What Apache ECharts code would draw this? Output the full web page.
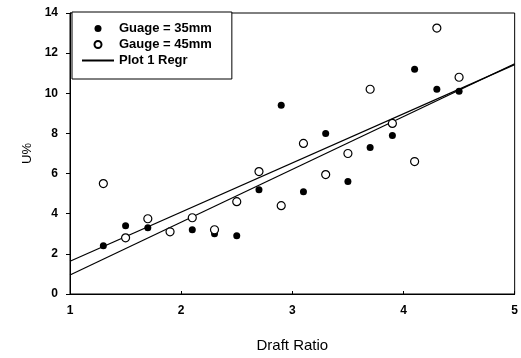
<!DOCTYPE html>
<html>
<head>
<meta charset="utf-8">
<script src="https://cdn.jsdelivr.net/npm/echarts@6/dist/echarts.min.js"></script>
<style>
  html, body { margin: 0; padding: 0; background: #fff; }
  #chart { width: 521px; height: 358px; }
</style>
</head>
<body>
<div id="chart"></div>
<script>
// 数据
const gauge35X = [1.3, 1.5, 1.7, 2.1, 2.3, 2.5, 2.7, 2.9, 3.1, 3.3, 3.5, 3.7, 3.9, 4.1, 4.3, 4.5];
const gauge35Y = [2.4, 3.4, 3.3, 3.2, 3.0, 2.9, 5.2, 9.4, 5.1, 8.0, 5.6, 7.3, 7.9, 11.2, 10.2, 10.1];

const gauge45X = [1.3, 1.5, 1.7, 1.9, 2.1, 2.3, 2.5, 2.7, 2.9, 3.1, 3.3, 3.5, 3.7, 3.9, 4.1, 4.3, 4.5];
const gauge45Y = [5.5, 2.8, 3.75, 3.1, 3.8, 3.2, 4.6, 6.1, 4.4, 7.5, 5.95, 7.0, 10.2, 8.5, 6.6, 13.25, 10.8];

// 回归线端点
const regrX = [1, 5];
const regr35Y = [0.95, 11.47];
const regr45Y = [1.63, 11.43];

const xTicks = [1, 2, 3, 4, 5];
const yTicks = [0, 2, 4, 6, 8, 10, 12, 14];

function pairs(xs, ys) {
  return xs.map(function (x, i) { return [x, ys[i]]; });
}

const font = "'Liberation Sans', Arial, sans-serif";

const chart = echarts.init(document.getElementById("chart"));
chart.setOption({
  animation: false,
  backgroundColor: "#fff",
  grid: {
    left: 70,
    right: 3,
    top: 13,
    bottom: 58,
    show: true,
    borderColor: "#000",
    borderWidth: 1
  },
  legend: {
    orient: "vertical",
    left: 72,
    top: 12,
    padding: [10, 20, 12, 9],
    borderColor: "#000",
    borderWidth: 1,
    backgroundColor: "#fff",
    itemWidth: 32,
    itemHeight: 7,
    itemGap: 3,
    textStyle: {
      color: "#000",
      fontFamily: font,
      fontWeight: "bold",
      fontSize: 13
    },
    data: [
      "Guage = 35mm",
      "Gauge = 45mm",
      // 图例只画线，不画点
      { name: "Plot 1 Regr", itemStyle: { color: "transparent", borderWidth: 0 } }
    ]
  },
  xAxis: {
    type: "value",
    min: xTicks[0],
    max: xTicks[xTicks.length - 1],
    interval: 1,
    name: "Draft Ratio",
    nameLocation: "middle",
    nameGap: 44,
    nameTextStyle: { color: "#000", fontFamily: font, fontSize: 15 },
    axisLine: { lineStyle: { color: "#000", width: 1 } },
    axisTick: { inside: true, length: 3, lineStyle: { color: "#000" } },
    axisLabel: { color: "#000", fontFamily: font, fontWeight: "bold", fontSize: 12, margin: 11 },
    splitLine: { show: false }
  },
  yAxis: {
    type: "value",
    min: yTicks[0],
    max: yTicks[yTicks.length - 1],
    interval: 2,
    name: "U%",
    nameLocation: "middle",
    nameGap: 30,
    nameTextStyle: { color: "#000", fontFamily: font, fontSize: 13 },
    axisLine: { show: true, lineStyle: { color: "#000", width: 1 } },
    axisTick: { show: true, length: 4, lineStyle: { color: "#000" } },
    axisLabel: { color: "#000", fontFamily: font, fontWeight: "bold", fontSize: 12, margin: 12 },
    splitLine: { show: false }
  },
  series: [
    {
      name: "Plot 1 Regr",
      type: "line",
      symbol: "none",
      data: pairs(regrX, regr35Y),
      lineStyle: { color: "#000", width: 1.2 },
      itemStyle: { color: "#000" },
      z: 1
    },
    {
      name: "Plot 1 Regr",
      type: "line",
      symbol: "none",
      data: pairs(regrX, regr45Y),
      lineStyle: { color: "#000", width: 1.2 },
      itemStyle: { color: "#000" },
      z: 1
    },
    {
      name: "Guage = 35mm",
      type: "scatter",
      symbol: "circle",
      symbolSize: 7,
      data: pairs(gauge35X, gauge35Y),
      itemStyle: { color: "#000", opacity: 1 },
      z: 3
    },
    {
      name: "Gauge = 45mm",
      type: "scatter",
      symbol: "circle",
      symbolSize: 8,
      data: pairs(gauge45X, gauge45Y),
      itemStyle: { color: "#fff", borderColor: "#000", borderWidth: 1.2, opacity: 1 },
      z: 4
    }
  ]
});
</script>
</body>
</html>
